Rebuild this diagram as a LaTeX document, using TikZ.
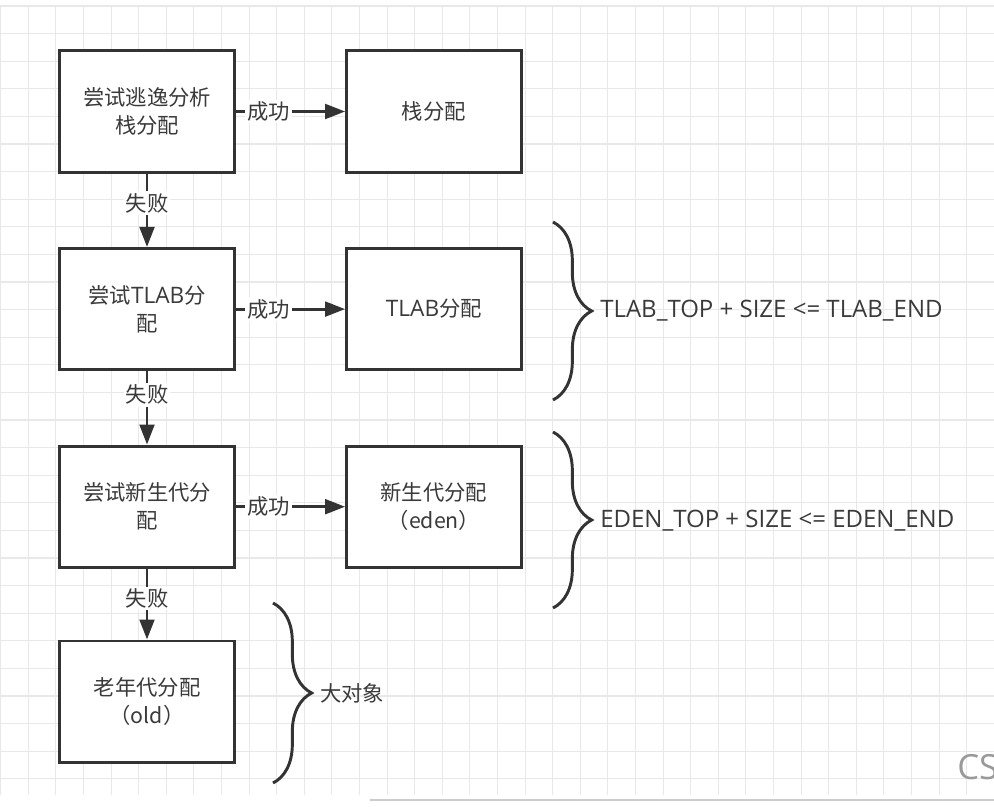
\documentclass[tikz,border=0pt]{standalone}
\usepackage{fontspec}
\setmainfont{Noto Sans CJK SC}
\newfontfamily\en{Open Sans}
\usetikzlibrary{arrows.meta, positioning, decorations.pathreplacing}
\definecolor{linegray}{HTML}{333333}
\definecolor{textgray}{HTML}{3A3A3A}
\definecolor{gridgray}{HTML}{E8E8E8}
\tikzstyle{process} = [rectangle, minimum width=131pt, minimum height=91pt, text centered, align=center, draw=linegray, line width=2.2pt, fill=white, text=textgray, font=\fontsize{16}{21}\selectfont]
\tikzstyle{arrow} = [line width=2.2pt, draw=linegray, -{Triangle[length=15pt,width=11pt]}]
\tikzstyle{edgelabel} = [fill=white, text=textgray, inner sep=1.5pt, font=\fontsize{16}{21}\selectfont]
\tikzstyle{bracket} = [decorate, decoration={brace, amplitude=29pt}, line width=2.2pt, draw=linegray]
\tikzstyle{note} = [anchor=west, inner sep=0pt, text=textgray, font=\fontsize{16}{21}\selectfont]

\begin{document}
\begin{tikzpicture}[x=0.75pt, y=-0.75pt, node distance=55pt and 82pt]
    \useasboundingbox (0,0) rectangle (994,806);
    % background grid
    \foreach \gx in {0.7,28.3,...,994} \draw [gridgray, line width=0.8pt] (\gx,5) -- (\gx,795);
    \foreach \gy in {6,33.6,...,795} \draw [gridgray, line width=0.8pt] (0,\gy) -- (994,\gy);
    \draw [gray!40, line width=1.5pt] (370,800) -- (994,800);

    \node (escape) [process] at (147,111.5) {尝试逃逸分析\\栈分配};
    \node (stack) [process, right=of escape] {栈分配};
    \node (trytlab) [process, below=of escape] {尝试{\en\fontsize{17}{21}\selectfont TLAB}分\\配};
    \node (tlab) [process, right=of trytlab] {{\en\fontsize{17}{21}\selectfont TLAB}分配};
    \node (tryeden) [process, below=of trytlab] {尝试新生代分\\配};
    \node (eden) [process, right=of tryeden] {新生代分配\\（eden）};
    \node (old) [process, below=53pt of tryeden] {老年代分配\\（old）};

    \draw [arrow] (escape) -- node[edgelabel, pos=0.3] {成功} (stack);
    \draw [arrow] (trytlab) -- node[edgelabel, pos=0.3] {成功} (tlab);
    \draw [arrow] (tryeden) -- node[edgelabel, pos=0.3] {成功} (eden);
    \draw [arrow] (escape) -- node[edgelabel, pos=0.4] {失败} (trytlab);
    \draw [arrow] (trytlab) -- node[edgelabel, pos=0.32] {失败} (tryeden);
    \draw [arrow] (tryeden) -- node[edgelabel, pos=0.42] {失败} (old);

    % braces
    \coordinate (tlabtop) at (553,222);
    \coordinate (tlabbot) at (553,400);
    \coordinate (edentop) at (553,432);
    \coordinate (edenbot) at (553,608);
    \coordinate (bigtop) at (273,603);
    \coordinate (bigbot) at (273,783);
    \draw [bracket] (tlabtop) -- (tlabbot);
    \draw [bracket] (edentop) -- (edenbot);
    \draw [bracket] (bigtop) -- (bigbot);
    \node (tlabrule) [note, font=\en\fontsize{18}{21}\selectfont] at (600,311) {TLAB\_TOP + SIZE <= TLAB\_END};
    \node (edenrule) [note, font=\en\fontsize{18}{21}\selectfont] at (600,521) {EDEN\_TOP + SIZE <= EDEN\_END};
    \node (bigobj) [note] at (320,693) {大对象};

    \node (mark) [anchor=west, inner sep=0pt, text=gray!80, font=\en\fontsize{26}{30}\selectfont] at (957,767) {CS};
\end{tikzpicture}
\end{document}
